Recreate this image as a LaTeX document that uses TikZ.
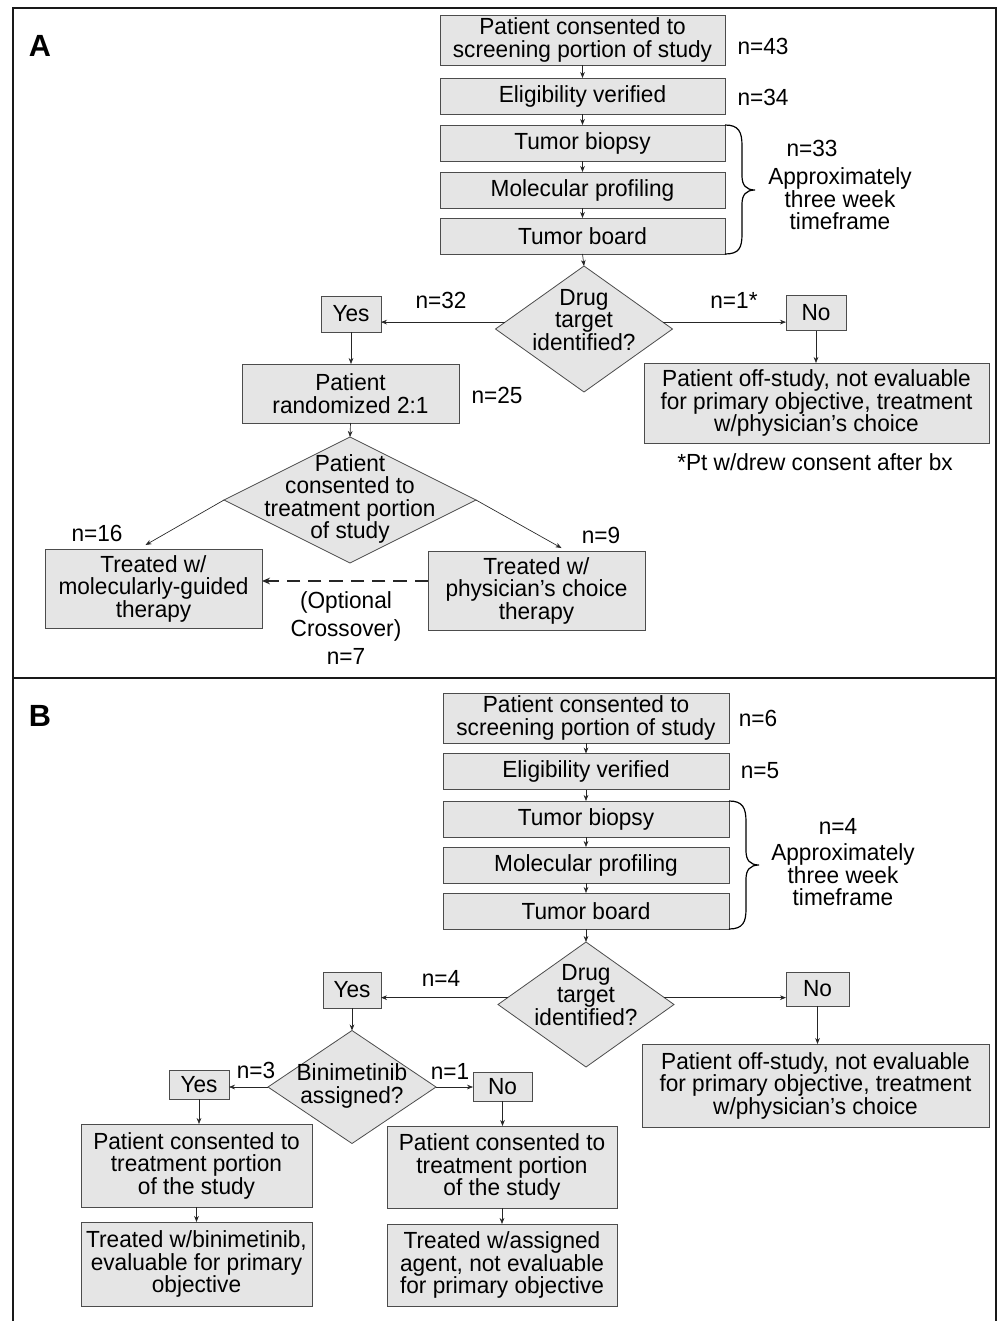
\documentclass[tikz,border=0pt]{standalone}
\usepackage{fontspec}
\setmainfont[FakeStretch=0.97]{Liberation Sans}
\newfontfamily\labelfont{Liberation Sans}
\usetikzlibrary{shapes.geometric,arrows.meta,calc}
\begin{document}
\begin{tikzpicture}[x=0.75pt,y=-0.75pt,
  every node/.style={inner sep=0pt, outer sep=0pt},
  txt/.style={font=\fontsize{17.5}{16.9}\selectfont, align=center},
  box/.style={txt, draw=black!70, fill=black!10, line width=0.6pt, rectangle},
  sz/.style 2 args={minimum width=#1*0.75pt, minimum height=#2*0.75pt},
  dia/.style={diamond, draw=black!70, fill=black!10, line width=0.6pt},
  conn/.style={draw=black!85, line width=0.5pt, -{Stealth[length=4.5pt,width=3.5pt]}},
  xover/.style={draw=black!85, line width=1.8pt, dash pattern=on 10pt off 6pt, -{Stealth[length=6pt,width=5pt]}},
  frame/.style={draw=black!90, line width=1.9pt},
  panel/.style={font=\labelfont\fontsize{23}{23}\selectfont\bfseries},
  bracecurve/.style={draw=black, line width=0.9pt}
]
\useasboundingbox (0,0) rectangle (1000,1321);
\fill[white] (0,0) rectangle (1000,1321);
% frames
\draw[frame] (13,1321) -- (13,8) -- (996,8) -- (996,1321);
\draw[frame] (13,678) -- (996,678);

% ================= Panel A =================
\node[panel] (labA) at (40,46) {A};
\node[box, sz={285}{50}] (a1) at (582.5,40) {Patient consented to\\screening portion of study};
\node[box, sz={285}{36}] (a2) at (582.5,96) {Eligibility verified};
\node[box, sz={285}{36}] (a3) at (582.5,143) {Tumor biopsy};
\node[box, sz={285}{36}] (a4) at (582.5,190) {Molecular profiling};
\node[box, sz={285}{36}] (a5) at (582.5,236) {Tumor board};
\node[txt] (na1) at (763,46) {n=43};
\node[txt] (na2) at (763,97) {n=34};
\node[txt] (na3) at (812,148) {n=33};
\node[txt] (tfA) at (840,199) {Approximately\\three week\\timeframe};
\draw[bracecurve] (725,125) .. controls (739,125) and (742,132) .. (742,146) -- (742,176) .. controls (742,185) and (746,190) .. (755,190) .. controls (746,190) and (742,195) .. (742,204) -- (742,234) .. controls (742,248) and (739,254) .. (725,254);

\node[dia, sz={177}{126}] (dA) at (584,329) {};
\node[txt] (dAt) at (584,320) {Drug\\target\\identified?};
\node[box, sz={60}{36}] (yA) at (351,314) {Yes};
\node[box, sz={60}{35}] (noA) at (816,313) {No};
\node[txt] (n32) at (441,300) {n=32};
\node[txt] (n1s) at (734,300) {n=1*};
\node[box, sz={345}{80}] (offA) at (816.5,403) {Patient off-study, not evaluable\\for primary objective, treatment\\w/physician’s choice};
\node[txt] (fn) at (815,462) {*Pt w/drew consent after bx};
\node[box, sz={217}{59}] (rand) at (350.5,393.5) {Patient\\randomized 2:1};
\node[txt] (n25) at (497,395) {n=25};
\node[dia, sz={252}{126}] (d2) at (350,500) {};
\node[txt] (d2t) at (350,499) {Patient\\consented to\\treatment portion\\of study};
\node[box, sz={217}{79}] (tl) at (153.5,588.5) {Treated w/\\molecularly-guided\\therapy};
\node[box, sz={217}{79}] (tr) at (536.5,590.5) {Treated w/\\physician’s choice\\therapy};
\node[txt] (n16) at (97,533) {n=16};
\node[txt] (n9) at (601,535) {n=9};
\node[txt, font=\fontsize{17.5}{21}\selectfont] (xo) at (346,628) {(Optional\\Crossover)\\n=7};

\draw[conn] (a1) -- (a2);
\draw[conn] (a2) -- (a3);
\draw[conn] (a3) -- (a4);
\draw[conn] (a4) -- (a5);
\draw[conn] (a5.south) -- (dA.north);
\draw[conn] (dA.175) -- (dA.175 -| yA.east);
\draw[conn] (dA.5) -- (dA.5 -| noA.west);
\draw[conn] (noA.south) -- (noA.south |- offA.north);
\draw[conn] (yA.south) -- (yA.south |- rand.north);
\draw[conn] (rand.south) -- (d2.north);
\coordinate (tlin) at ($(tl.north)+(-8,-4)$);
\coordinate (trin) at ($(tr.north)+(25,-3)$);
\draw[conn] (d2.west) -- (tlin);
\draw[conn] (d2.east) -- (trin);
\coordinate (xs) at ($(tr.west)+(0,-9.5)$);
\draw[xover] (xs) -- (xs -| tl.east);

% ================= Panel B =================
\node[panel] (labB) at (40,716) {B};
\node[box, sz={286}{50}] (b1) at (586,718) {Patient consented to\\screening portion of study};
\node[box, sz={286}{36}] (b2) at (586,771.5) {Eligibility verified};
\node[box, sz={286}{36}] (b3) at (586,819) {Tumor biopsy};
\node[box, sz={286}{36}] (b4) at (586,865) {Molecular profiling};
\node[box, sz={286}{36}] (b5) at (586,911) {Tumor board};
\node[txt] (nb1) at (758,718) {n=6};
\node[txt] (nb2) at (760,771) {n=5};
\node[txt] (nb3) at (838,826) {n=4};
\node[txt] (tfB) at (843,875) {Approximately\\three week\\timeframe};
\draw[bracecurve] (729,801) .. controls (743,801) and (746,808) .. (746,822) -- (746,851) .. controls (746,860) and (750,865) .. (759,865) .. controls (750,865) and (746,870) .. (746,879) -- (746,909) .. controls (746,922) and (743,929) .. (729,929);

\node[dia, sz={176}{125}] (dB) at (586,1004.5) {};
\node[txt] (dBt) at (586,995) {Drug\\target\\identified?};
\node[box, sz={58}{36}] (yB) at (352,990) {Yes};
\node[box, sz={63}{34}] (noB) at (817.5,989) {No};
\node[txt] (n4b) at (441,978) {n=4};
\node[box, sz={347}{83}] (offB) at (815.5,1085.5) {Patient off-study, not evaluable\\for primary objective, treatment\\w/physician’s choice};
\node[dia, sz={168}{113}] (bini) at (352,1087) {};
\node[txt] (binit) at (352,1086) {Binimetinib\\assigned?};
\node[box, sz={60}{29}] (y2) at (199,1084.5) {Yes};
\node[box, sz={59}{29}] (no2) at (502.5,1086.5) {No};
\node[txt] (n3) at (256,1070) {n=3};
\node[txt] (n1) at (450,1071) {n=1};
\node[box, sz={231}{83}] (l1) at (196.5,1165.5) {Patient consented to\\treatment portion\\of the study};
\node[box, sz={230}{82}] (r1) at (502,1167) {Patient consented to\\treatment portion\\of the study};
\node[box, sz={231}{84}] (l2) at (196.5,1264) {Treated w/binimetinib,\\evaluable for primary\\objective};
\node[box, sz={230}{82}] (r2) at (502,1265) {Treated w/assigned\\agent, not evaluable\\for primary objective};

\draw[conn] (b1) -- (b2);
\draw[conn] (b2) -- (b3);
\draw[conn] (b3) -- (b4);
\draw[conn] (b4) -- (b5);
\draw[conn] (b5.south) -- (dB.north);
\draw[conn] (dB.175) -- (dB.175 -| yB.east);
\draw[conn] (dB.5) -- (dB.5 -| noB.west);
\draw[conn] (noB.south) -- (noB.south |- offB.north);
\draw[conn] (yB.south) -- (bini.north);
\draw[conn] (bini.west) -- (bini.west -| y2.east);
\draw[conn] (bini.east) -- (bini.east -| no2.west);
\draw[conn] (y2.south) -- (y2.south |- l1.north);
\draw[conn] (no2.south) -- (no2.south |- r1.north);
\draw[conn] (l1) -- (l2);
\draw[conn] (r1) -- (r2);
\end{tikzpicture}
\end{document}
